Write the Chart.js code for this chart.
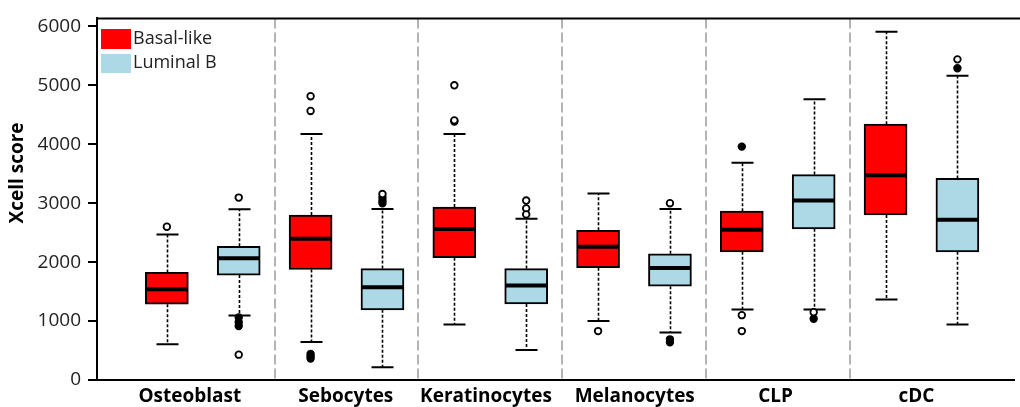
<!DOCTYPE html>
<html>
<head>
<meta charset="utf-8">
<script src="https://cdn.jsdelivr.net/npm/chart.js@4"></script>
<style>
  body { margin: 0; background: #fff; }
  #wrap { width: 1020px; height: 407px; position: relative; }
</style>
</head>
<body>
<div id="wrap"><canvas id="chart"></canvas></div>
<script>
// categories and box stats
const cats = ["Osteoblast", "Sebocytes", "Keratinocytes", "Melanocytes", "CLP", "cDC"];
const labelPos = [1.32, 3.49, 5.44, 7.51, 9.47, 11.43];
const yTicks = [0, 1000, 2000, 3000, 4000, 5000, 6000];

const basalMin = [605, 645, 940, 1000, 1195, 1365];
const basalQ1  = [1285, 1875, 2075, 1905, 2175, 2800];
const basalMed = [1540, 2395, 2560, 2260, 2550, 3475];
const basalQ3  = [1825, 2800, 2935, 2540, 2865, 4340];
const basalMax = [2470, 4175, 4175, 3165, 3685, 5907];
const basalOutOpen   = [[2600], [4815, 4565], [5000, 4385, 4405], [830], [1100, 830], []];
const basalOutFilled = [[], [440, 400, 365], [], [], [3960], []];

const lumMin = [1095, 215, 510, 805, 1195, 940];
const lumQ1  = [1780, 1190, 1290, 1590, 2565, 2175];
const lumMed = [2065, 1575, 1605, 1900, 3045, 2720];
const lumQ3  = [2270, 1890, 1890, 2140, 3485, 3420];
const lumMax = [2895, 2900, 2735, 2900, 4765, 5160];
const lumOutOpen   = [[3095, 430], [3155], [3045, 2910, 2810], [3000], [1150], [5440]];
const lumOutFilled = [[1060, 980, 915], [3095, 3040, 3000], [], [690, 640], [1040], [5290]];

const redC = "#ff0000", blueC = "#add8e6";
const font = "'Open Sans', 'DejaVu Sans', sans-serif";

let basalX = cats.map((c, i) => 2 * i + 1),
    lumX = cats.map((c, i) => 2 * i + 2)

let boxData = (xs, q1, q3) => xs.map((x, i) => ({ x: x, y: [q1[i], q3[i]] }))
let outData = (xs, outs) => {
    let pts = []
    xs.forEach((x, i) => outs[i].forEach(v => pts.push({ x: x, y: v })))
    return pts
}

let boxPlugin = {
    id: "boxbits",
    beforeDatasetsDraw(chart) {
        let ctx = chart.ctx, area = chart.chartArea, xs = chart.scales.x
        ctx.save()
        // dashed group separators
        ctx.strokeStyle = "#b4b4b4"
        ctx.lineWidth = 2
        ctx.setLineDash([10, 4])
        for (let i = 1; i < cats.length; i++) {
            let px = Math.round(xs.getPixelForValue(2 * i + 0.5))
            ctx.beginPath()
            ctx.moveTo(px, area.top)
            ctx.lineTo(px, area.bottom)
            ctx.stroke()
        }
        ctx.setLineDash([])
        // top frame line
        ctx.strokeStyle = "#000"
        ctx.beginPath()
        ctx.moveTo(area.left, area.top)
        ctx.lineTo(chart.width, area.top)
        ctx.stroke()

        // whiskers
        let ys = chart.scales.y
        let whisk = (xv, lo, q1, q3, hi) => {
            let px = Math.round(xs.getPixelForValue(xv)) + 0.5
            ctx.lineWidth = 1.6
            ctx.setLineDash([3, 2])
            ctx.beginPath()
            ctx.moveTo(px, ys.getPixelForValue(q3))
            ctx.lineTo(px, ys.getPixelForValue(hi))
            ctx.moveTo(px, ys.getPixelForValue(q1))
            ctx.lineTo(px, ys.getPixelForValue(lo))
            ctx.stroke()
            ctx.setLineDash([])
            ctx.lineWidth = 2
            ctx.beginPath()
            ctx.moveTo(px - 11, ys.getPixelForValue(hi))
            ctx.lineTo(px + 11, ys.getPixelForValue(hi))
            ctx.moveTo(px - 11, ys.getPixelForValue(lo))
            ctx.lineTo(px + 11, ys.getPixelForValue(lo))
            ctx.stroke()
        }
        cats.forEach((c, i) => {
            whisk(basalX[i], basalMin[i], basalQ1[i], basalQ3[i], basalMax[i])
            whisk(lumX[i], lumMin[i], lumQ1[i], lumQ3[i], lumMax[i])
        })
        ctx.restore()
    },
    afterDatasetsDraw(chart) {
        let ctx = chart.ctx, xs = chart.scales.x, ys = chart.scales.y
        ctx.save()
        // medians
        ctx.strokeStyle = "#000"
        ctx.lineWidth = 4
        let med = (xv, m) => {
            let px = xs.getPixelForValue(xv), py = ys.getPixelForValue(m)
            ctx.beginPath()
            ctx.moveTo(px - 21, py)
            ctx.lineTo(px + 21, py)
            ctx.stroke()
        }
        cats.forEach((c, i) => {
            med(basalX[i], basalMed[i])
            med(lumX[i], lumMed[i])
        })

        // legend inside the plot
        ctx.fillStyle = redC
        ctx.fillRect(101, 29, 30, 20)
        ctx.fillStyle = blueC
        ctx.fillRect(101, 54, 30, 19)
        ctx.fillStyle = "#222"
        ctx.font = "18px " + font
        ctx.textBaseline = "middle"
        ctx.textAlign = "left"
        ctx.fillText("Basal-like", 133, 39)
        ctx.fillText("Luminal B", 133, 63)

        // y title
        ctx.translate(18, 173)
        ctx.rotate(-Math.PI / 2)
        ctx.textAlign = "center"
        ctx.fillStyle = "#000"
        ctx.font = "bold 19px " + font
        ctx.fillText("Xcell score", 0, 0)
        ctx.restore()
    }
}

let pointStyle = (fill) => ({
    pointStyle: "circle",
    pointRadius: 3.3,
    pointBorderWidth: 1.8,
    pointBorderColor: "#000",
    pointBackgroundColor: fill
})

let myChart = new Chart(document.querySelector("#chart"), {
    type: "bar",
    data: {
        datasets: [
            { label: "Basal-like", data: boxData(basalX, basalQ1, basalQ3), backgroundColor: redC,
              borderColor: "#000", borderWidth: 2, borderSkipped: false, barThickness: 43, grouped: false },
            { label: "Luminal B", data: boxData(lumX, lumQ1, lumQ3), backgroundColor: blueC,
              borderColor: "#000", borderWidth: 2, borderSkipped: false, barThickness: 43, grouped: false },
            { type: "scatter", data: outData(basalX, basalOutOpen), ...pointStyle("#fff") },
            { type: "scatter", data: outData(basalX, basalOutFilled), ...pointStyle("#000") },
            { type: "scatter", data: outData(lumX, lumOutOpen), ...pointStyle("#fff") },
            { type: "scatter", data: outData(lumX, lumOutFilled), ...pointStyle("#000") }
        ]
    },
    options: {
        responsive: true,
        maintainAspectRatio: false,
        animation: false,
        events: [],
        layout: { padding: { top: 16, right: 0, left: 0, bottom: 0 } },
        plugins: {
            legend: { display: false },
            tooltip: { enabled: false }
        },
        scales: {
            x: {
                type: "linear",
                offset: false,
                min: 0.028,
                max: 12.79,
                afterFit: s => { s.height = 27 },
                afterBuildTicks: s => { s.ticks = labelPos.map(v => ({ value: v })) },
                ticks: {
                    autoSkip: false,
                    maxRotation: 0,
                    padding: -3,
                    color: "#000",
                    font: { family: font, size: 19, weight: "bold" },
                    callback: (v, i) => cats[i]
                },
                grid: { display: false },
                border: { display: true, color: "#000", width: 2 }
            },
            y: {
                type: "linear",
                min: 0,
                max: 6135,
                afterFit: s => { s.width = 97 },
                afterBuildTicks: s => { s.ticks = yTicks.map(v => ({ value: v })) },
                ticks: {
                    autoSkip: false,
                    padding: 7,
                    color: "#222",
                    font: { family: font, size: 19 },
                    callback: (v, i) => String(yTicks[i])
                },
                grid: { drawOnChartArea: false, tickLength: 9, color: "#000", lineWidth: 2 },
                border: { display: true, color: "#000", width: 2 }
            }
        }
    },
    plugins: [boxPlugin]
});
</script>
</body>
</html>
